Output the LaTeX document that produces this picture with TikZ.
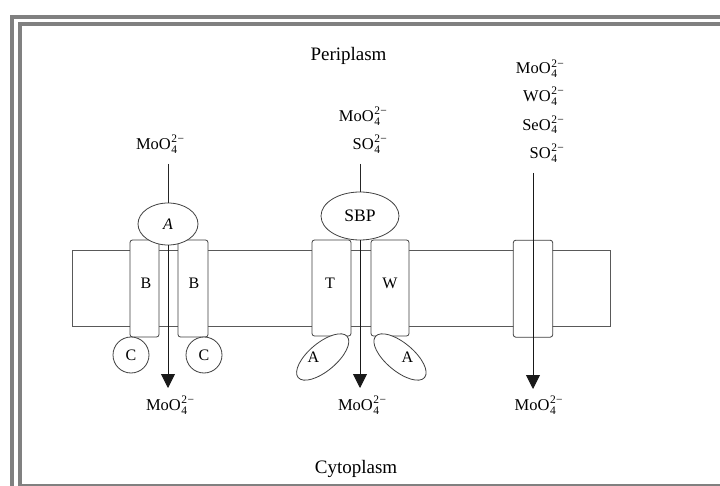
\documentclass[tikz,border=0pt]{standalone}
\usepackage{fontspec}
\setmainfont{Liberation Serif}
\usetikzlibrary{arrows.meta,shapes.geometric}
\newcommand\ionsz{\fontsize{11.5}{11.5}\selectfont}
\newcommand\ion[1]{#1\kern0.6pt\rlap{\raisebox{6.8pt}{\ionsz 2\kern0.3pt−}}\raisebox{-3.8pt}{\ionsz 4}\hphantom{\ionsz\kern0.3pt−}}
\begin{document}
\begin{tikzpicture}[x=1pt,y=-1pt,
  framebar/.style={draw=black!50, line width=4pt},
  memb/.style={draw=black!65, line width=0.8pt},
  protbox/.style={draw=black!75, fill=white, line width=0.8pt, rounded corners=2.5pt, inner sep=0pt},
  protell/.style={draw=black!75, fill=white, line width=0.8pt, ellipse, inner sep=0pt},
  protcirc/.style={draw=black!75, fill=white, line width=0.8pt, circle, inner sep=0pt, minimum size=36pt, font=\fontsize{16}{18}\selectfont},
  letter/.style={inner sep=0pt, font=\fontsize{16}{18}\selectfont},
  ionlbl/.style={inner sep=0pt, font=\fontsize{16.5}{19}\selectfont},
  region/.style={inner sep=0pt, font=\fontsize{19}{22}\selectfont, anchor=base},
  conn/.style={draw=black!85, line width=0.8pt},
  arr/.style={draw=black!90, line width=0.9pt, -{Triangle[length=14pt,width=14pt]}}]
\useasboundingbox (0,0) rectangle (720,486);
\clip (0,0) rectangle (720,486);
\fill[white] (0,0) rectangle (720,486);
% frame
\draw[framebar] (12,17) rectangle (760,530);
\draw[framebar] (20,24) rectangle (750,486);
% region labels
\node[region] (peri) at (348.5,60.7) {Periplasm};
\node[region] (cyto) at (356,473) {Cytoplasm};
% membrane
\draw[memb] (72,250) rectangle (610,326);
% transporter 1
\node[protbox, minimum width=29pt, minimum height=97pt] (B1) at (144.5,288.5) {};
\node[protbox, minimum width=30pt, minimum height=97pt] (B2) at (193,288.5) {};
\node[letter] (B1t) at (146,283) {B};
\node[letter] (B2t) at (194,283) {B};
\node[protcirc] (C1) at (131,355) {C};
\node[protcirc] (C2) at (204,355) {C};
\node[protell, minimum width=60pt, minimum height=42pt, font=\fontsize{16}{18}\selectfont\itshape] (A1) at (168,224) {A};
\node[ionlbl, anchor=mid] (t1) at (160,147) {\ion{MoO}};
\node[ionlbl, anchor=mid] (b1) at (170,408) {\ion{MoO}};
\coordinate (l1) at (168,164);
\coordinate (e1) at (168,388);
\draw[conn] (l1) -- (A1.north);
\draw[arr] (A1.south) -- (e1);
% transporter 2
\node[protbox, minimum width=39pt, minimum height=96pt] (T) at (331.5,288) {};
\node[protbox, minimum width=38pt, minimum height=96pt] (W) at (390,288) {};
\node[letter] (Tt) at (330,283) {T};
\node[letter] (Wt) at (390,283) {W};
\node[protell, minimum width=64pt, minimum height=28pt, rotate=40] (A2) at (322.7,357) {};
\node[protell, minimum width=64pt, minimum height=28pt, rotate=-40] (A3) at (400,357) {};
\node[letter] (A2t) at (313.3,357.3) {A};
\node[letter] (A3t) at (407.3,357.3) {A};
\node[protell, minimum width=78pt, minimum height=48pt, font=\fontsize{17.5}{20}\selectfont] (SBP) at (360,216) {SBP};
\node[ionlbl, anchor=mid east] (t2a) at (387,119) {\ion{MoO}};
\node[ionlbl, anchor=mid east] (t2b) at (387,147) {\ion{SO}};
\node[ionlbl, anchor=mid] (b2) at (362,408) {\ion{MoO}};
\coordinate (l2) at (360,164);
\coordinate (e2) at (360,388);
\draw[conn] (l2) -- (SBP.north);
\draw[arr] (SBP.south) -- (e2);
% transporter 3
\node[protbox, minimum width=39.4pt, minimum height=97pt] (P3) at (533,288.7) {};
\node[ionlbl, anchor=mid east] (t3a) at (564,71.7) {\ion{MoO}};
\node[ionlbl, anchor=mid east] (t3b) at (564,99.5) {\ion{WO}};
\node[ionlbl, anchor=mid east] (t3c) at (564,127.8) {\ion{SeO}};
\node[ionlbl, anchor=mid east] (t3d) at (564,156) {\ion{SO}};
\node[ionlbl, anchor=mid] (b3) at (538.7,408) {\ion{MoO}};
\coordinate (s3) at (533,173);
\coordinate (e3) at (533,389);
\draw[arr] (s3) -- (e3);
\end{tikzpicture}
\end{document}
